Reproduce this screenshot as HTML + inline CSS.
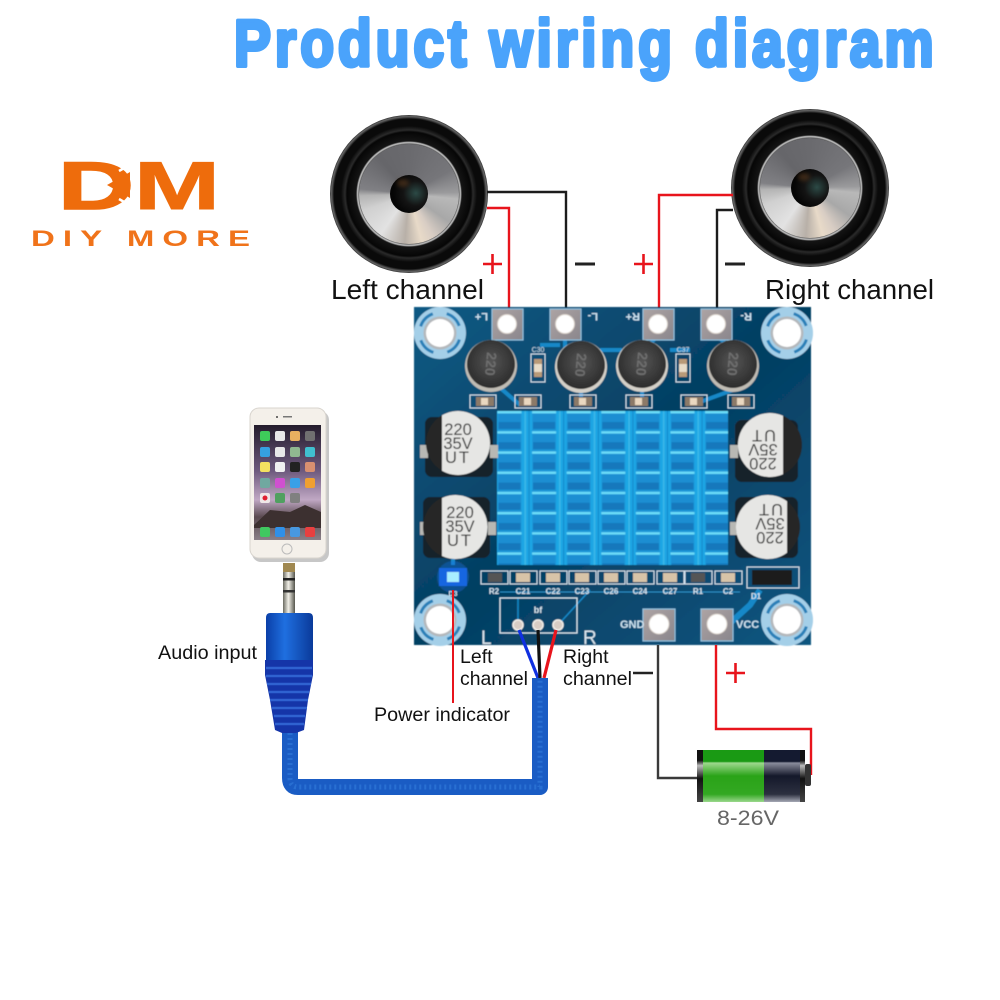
<!DOCTYPE html>
<html><head><meta charset="utf-8"><title>Product wiring diagram</title>
<style>
html,body{margin:0;padding:0;background:#fff;width:1000px;height:1000px;overflow:hidden}
#s{position:absolute;left:0;top:0}
.spk{position:absolute;width:158px;height:158px;border-radius:50%;
background:radial-gradient(circle,#111 0,#111 49.500px,#8a8a8a 50.500px,#c4c4c4 51.500px,#141414 53px,#060606 62px,#2a2a2a 64px,#0a0a0a 68px,#0a0a0a 75px,#666 77.500px,#333 79px)}
.cone{position:absolute;left:29px;top:29px;width:100px;height:100px;border-radius:50%;
background:conic-gradient(from 0deg,#6a6a6e 0deg,#76767a 60deg,#9a9a9c 88deg,#b8b8b8 96deg,#a8a8a8 125deg,#d8cdc4 150deg,#e8dac8 165deg,#b8b0a8 185deg,#e2e2e2 215deg,#d0d0d0 250deg,#b4b4b4 268deg,#808084 276deg,#66666a 320deg,#6a6a6e 360deg)}
.cap{position:absolute;left:31px;top:31px;width:38px;height:38px;border-radius:50%;
background:radial-gradient(circle at 68% 48%,#2c4a46 0,#141414 38%,#050505 70%),#000}
.cap:after{content:"";position:absolute;left:7px;top:4px;width:12px;height:8px;border-radius:50%;background:#5a3a1e;opacity:.6;filter:blur(2px)}
</style></head><body>
<div class="spk" style="left:330px;top:115px"><div class="cone"><div class="cap"></div></div></div>
<div class="spk" style="left:731px;top:109px"><div class="cone"><div class="cap"></div></div></div>
<svg id="s" width="1000" height="1000" viewBox="0 0 1000 1000" xmlns="http://www.w3.org/2000/svg" font-family="'Liberation Sans',sans-serif">
<defs>
<pattern id="fin" x="497.500" y="411" width="34.6" height="20.2" patternUnits="userSpaceOnUse">
<rect width="34.6" height="20.2" fill="#1ea6e4"/>
<rect x="0" width="24" height="20.2" fill="#1a96d8"/>
<rect x="1" y="3" width="22" height="8" fill="#1a8ed2"/>
<rect x="1" y="11" width="22" height="7" fill="#1378bc"/>
<rect x="0" y="0" width="24" height="2.400" fill="#6cdcf8"/>
<rect x="27" width="1.500" height="20.2" fill="#3cb8e8"/>
<rect x="31" width="1.200" height="20.2" fill="#158cce"/>
</pattern>
<linearGradient id="board" x1="0" y1="0" x2="1" y2="1"><stop offset="0" stop-color="#0b5a84"/><stop offset=".5" stop-color="#063f62"/><stop offset="1" stop-color="#0a5680"/></linearGradient>
<linearGradient id="bg" x1="0" y1="0" x2="0" y2="1"><stop offset="0" stop-color="#1a9a14"/><stop offset=".22" stop-color="#1a9a14"/><stop offset=".25" stop-color="#9ed88e"/><stop offset=".5" stop-color="#2aa318"/><stop offset=".85" stop-color="#33a822"/><stop offset="1" stop-color="#9ad88c"/></linearGradient>
<linearGradient id="bk" x1="0" y1="0" x2="0" y2="1"><stop offset="0" stop-color="#141a30"/><stop offset=".22" stop-color="#141a30"/><stop offset=".25" stop-color="#8a8d9c"/><stop offset=".5" stop-color="#14182a"/><stop offset=".85" stop-color="#2c3040"/><stop offset="1" stop-color="#a5a8b5"/></linearGradient>
<linearGradient id="ed" x1="0" y1="0" x2="0" y2="1"><stop offset="0" stop-color="#111"/><stop offset=".2" stop-color="#111"/><stop offset=".3" stop-color="#bbb"/><stop offset=".55" stop-color="#111"/><stop offset="1" stop-color="#444"/></linearGradient>
<linearGradient id="wall" x1="0" y1="0" x2="0" y2="1"><stop offset="0" stop-color="#241c2c"/><stop offset=".4" stop-color="#6e5a7e"/><stop offset=".65" stop-color="#c0a8c4"/><stop offset=".8" stop-color="#5a4a50"/><stop offset="1" stop-color="#8a8088"/></linearGradient>
<linearGradient id="blu" x1="0" y1="0" x2="1" y2="0"><stop offset="0" stop-color="#0a3fa8"/><stop offset=".4" stop-color="#1f6fe0"/><stop offset="1" stop-color="#0a3a9a"/></linearGradient>
<linearGradient id="jack" x1="0" y1="0" x2="1" y2="0"><stop offset="0" stop-color="#6a6a60"/><stop offset=".45" stop-color="#f2f0e8"/><stop offset="1" stop-color="#55554c"/></linearGradient>
<linearGradient id="pad" x1="0" y1="0" x2="1" y2="1"><stop offset="0" stop-color="#ada4a4"/><stop offset="1" stop-color="#8a868c"/></linearGradient>
<radialGradient id="ind" cx=".5" cy=".45" r=".55"><stop offset="0" stop-color="#555"/><stop offset="1" stop-color="#2c2c2c"/></radialGradient>
<filter id="soft"><feGaussianBlur stdDeviation="0.5"/></filter>
</defs>

<!-- title -->
<text transform="translate(234,66) scale(.84,1)" font-size="66" font-weight="700" fill="#4aa3fb" stroke="#4aa3fb" stroke-width="4" stroke-linejoin="round" textLength="833" lengthAdjust="spacing">Product wiring diagram</text>

<!-- logo -->
<text x="58" y="209" font-size="68" font-weight="700" fill="#ee6c0c" stroke="#ee6c0c" stroke-width="1.500" textLength="76" lengthAdjust="spacingAndGlyphs">D</text>
<polygon points="107,185 130,172 130,198" fill="#ee6c0c"/>
<path d="M119 171L131 164M119 199L131 206" stroke="#fff" stroke-width="2.500" fill="none"/>
<text x="134" y="209" font-size="68" font-weight="700" fill="#ee6c0c" stroke="#ee6c0c" stroke-width="1" textLength="86" lengthAdjust="spacingAndGlyphs">M</text>
<text transform="translate(31,246) scale(1.5,1)" font-size="22" font-weight="700" fill="#f0731a" textLength="146" lengthAdjust="spacing">DIY MORE</text>

<!-- speaker wires -->
<g fill="none" stroke-width="2.4">
<polyline points="487,192 566,192 566,310" stroke="#1c1c1c"/>
<polyline points="487,208 509,208 509,310" stroke="#e8141c"/>
<polyline points="733,195 659,195 659,312" stroke="#e8141c"/>
<polyline points="733,210 717,210 717,312" stroke="#1c1c1c"/>
</g>
<g fill="none">
<path d="M483 264H502M492.500 254V274M634 264H653M643.500 254V274" stroke="#e8141c" stroke-width="2.600"/>
<path d="M575 264H595M725 264H745" stroke="#222" stroke-width="3"/>
</g>
<text x="331" y="299" font-size="28" fill="#111" textLength="153" lengthAdjust="spacingAndGlyphs">Left channel</text>
<text x="765" y="299" font-size="28" fill="#111" textLength="169" lengthAdjust="spacingAndGlyphs">Right channel</text>

<!-- board -->
<g filter="url(#soft)">
<rect x="414" y="307" width="397" height="338" fill="url(#board)"/>
<!-- traces -->
<g fill="none" stroke="#1688c8" stroke-width="4">
<path d="M507 324L490 345M565 335V350M658 335L645 350M716 335L733 350M491 380L520 405M581 390V402M642 390V402M733 390L700 402"/>
<path d="M453 565V555M540 345H560M600 350H622M670 350H690"/>
<path d="M717 635L750 605L760 590" stroke-width="6"/>
<path d="M518 625V598M558 625L590 590" stroke-width="1.500"/>
<path d="M500 592H740" stroke-width="1" stroke="#2a90c8"/>
</g>
<!-- mounting holes -->
<g>
<g><circle cx="440" cy="333" r="26" fill="#a4cfe8"/><circle cx="440" cy="333" r="20.500" fill="none" stroke="#2a80b8" stroke-width="3" stroke-dasharray="18 14.200" stroke-dashoffset="-6.700"/><circle cx="440" cy="333" r="16.500" fill="#b4b8bc"/><circle cx="440" cy="333" r="14" fill="#fff"/></g>
<g><circle cx="787" cy="333" r="26" fill="#a4cfe8"/><circle cx="787" cy="333" r="20.500" fill="none" stroke="#2a80b8" stroke-width="3" stroke-dasharray="18 14.200" stroke-dashoffset="-6.700"/><circle cx="787" cy="333" r="16.500" fill="#b4b8bc"/><circle cx="787" cy="333" r="14" fill="#fff"/></g>
<g><circle cx="440" cy="620" r="26" fill="#a4cfe8"/><circle cx="440" cy="620" r="20.500" fill="none" stroke="#2a80b8" stroke-width="3" stroke-dasharray="18 14.200" stroke-dashoffset="-6.700"/><circle cx="440" cy="620" r="16.500" fill="#b4b8bc"/><circle cx="440" cy="620" r="14" fill="#fff"/></g>
<g><circle cx="787" cy="620" r="26" fill="#a4cfe8"/><circle cx="787" cy="620" r="20.500" fill="none" stroke="#2a80b8" stroke-width="3" stroke-dasharray="18 14.200" stroke-dashoffset="-6.700"/><circle cx="787" cy="620" r="16.500" fill="#b4b8bc"/><circle cx="787" cy="620" r="14" fill="#fff"/></g>
</g>
<!-- pads -->
<g fill="url(#pad)" stroke="#8fc4e4" stroke-width="1">
<rect x="492" y="309" width="31" height="31"/><rect x="550" y="309" width="31" height="31"/><rect x="643" y="309" width="31" height="31"/><rect x="701" y="309" width="31" height="31"/>
<rect x="643" y="609" width="32" height="32"/><rect x="701" y="609" width="32" height="32"/>
</g>
<g fill="#fff" stroke="#d8d0c8" stroke-width="1">
<circle cx="507" cy="324" r="9.500"/><circle cx="565" cy="324" r="9.500"/><circle cx="658" cy="324" r="9.500"/><circle cx="716" cy="324" r="9.500"/>
<circle cx="659" cy="624" r="10"/><circle cx="717" cy="624" r="10"/>
</g>
<g fill="#cfe4f2" font-size="11" font-weight="700">
<text transform="translate(488,313) rotate(180)">L+</text>
<text transform="translate(598,313) rotate(180)">L-</text>
<text transform="translate(640,313) rotate(180)">R+</text>
<text transform="translate(752,313) rotate(180)">R-</text>
<text x="620" y="628">GND</text><text x="736" y="628">VCC</text>
</g>
<!-- inductors -->
<g>
<circle cx="491" cy="366" r="26" fill="#c0bcb4"/><circle cx="491" cy="364" r="24" fill="url(#ind)"/>
<circle cx="581" cy="367" r="26" fill="#d4d0c8"/><circle cx="581" cy="365" r="24" fill="url(#ind)"/>
<circle cx="642" cy="366" r="26" fill="#d4d0c8"/><circle cx="642" cy="364" r="24" fill="url(#ind)"/>
<circle cx="733" cy="366" r="26" fill="#c0bcb4"/><circle cx="733" cy="364" r="24" fill="url(#ind)"/>
</g>
<g fill="#6e6e6e" font-size="14" font-weight="700" text-anchor="middle">
<text transform="translate(491,364) rotate(95)" y="5">220</text>
<text transform="translate(581,365) rotate(95)" y="5">220</text>
<text transform="translate(642,364) rotate(95)" y="5">220</text>
<text transform="translate(733,364) rotate(95)" y="5">220</text>
</g>
<!-- C30 C37 -->
<g stroke="#cfe0ec" stroke-width="1" fill="none"><rect x="531" y="354" width="14" height="28"/><rect x="676" y="354" width="14" height="28"/></g>
<rect x="534" y="359" width="8" height="18" fill="#b89a78"/><rect x="679" y="359" width="8" height="18" fill="#b89a78"/>
<rect x="534" y="364" width="8" height="8" fill="#e8dcc8"/><rect x="679" y="364" width="8" height="8" fill="#e8dcc8"/>
<text x="538" y="352" font-size="7" fill="#cfe0ec" text-anchor="middle">C30</text><text x="683" y="352" font-size="7" fill="#cfe0ec" text-anchor="middle">C37</text>
<!-- top small parts -->
<g fill="none" stroke="#cfe0ec" stroke-width="1">
<rect x="470" y="395" width="26" height="13"/><rect x="515" y="395" width="26" height="13"/><rect x="570" y="395" width="26" height="13"/><rect x="626" y="395" width="26" height="13"/><rect x="681" y="395" width="26" height="13"/><rect x="728" y="395" width="26" height="13"/>
</g>
<g fill="#8c7a68"><rect x="476" y="397" width="18" height="9"/><rect x="519" y="397" width="18" height="9"/><rect x="574" y="397" width="18" height="9"/><rect x="630" y="397" width="18" height="9"/><rect x="685" y="397" width="18" height="9"/><rect x="732" y="397" width="18" height="9"/></g>
<g fill="#ead8c0"><rect x="481" y="398" width="7" height="7"/><rect x="524" y="398" width="7" height="7"/><rect x="579" y="398" width="7" height="7"/><rect x="635" y="398" width="7" height="7"/><rect x="690" y="398" width="7" height="7"/><rect x="737" y="398" width="7" height="7"/></g>
<!-- heatsink -->
<rect x="497" y="411" width="231" height="154" fill="url(#fin)"/>
<!-- capacitors -->
<g fill="#14212c"><rect x="425" y="417" width="68" height="60" rx="7"/><rect x="423" y="497" width="67" height="61" rx="7"/><rect x="735" y="420" width="63" height="62" rx="7"/><rect x="735" y="497" width="63" height="61" rx="7"/></g>
<g fill="#b8b8b4"><rect x="420" y="445" width="8" height="13"/><rect x="490" y="445" width="8" height="13"/><rect x="420" y="522" width="8" height="13"/><rect x="488" y="522" width="8" height="13"/><rect x="730" y="445" width="8" height="13"/><rect x="730" y="522" width="8" height="13"/></g>
<g fill="#262626"><circle cx="458" cy="443" r="32"/><circle cx="455" cy="527" r="32"/><circle cx="770" cy="445" r="32"/><circle cx="768" cy="527" r="32"/></g>
<g fill="#e6e6e4">
<path d="M442 415.300A32 32 0 1 1 442 470.700Z"/>
<path d="M442 498A32 32 0 1 1 442 556Z"/>
<path d="M783 415.800A32 32 0 1 0 783 474.200Z"/>
<path d="M787 501.300A32 32 0 1 0 787 552.700Z"/>
</g>
<g fill="#333" font-size="16.500" text-anchor="middle">
<text x="458" y="435">220</text><text x="458" y="449">35V</text><text x="458" y="463" letter-spacing="2">UT</text>
<text x="460" y="518">220</text><text x="460" y="532">35V</text><text x="460" y="546" letter-spacing="2">UT</text>
<g transform="rotate(180 763 449)"><text x="763" y="440">220</text><text x="763" y="454">35V</text><text x="763" y="468" letter-spacing="2">UT</text></g>
<g transform="rotate(180 770 523)"><text x="770" y="514">220</text><text x="770" y="528">35V</text><text x="770" y="542" letter-spacing="2">UT</text></g>
</g>
<!-- LED -->
<circle cx="453" cy="577" r="16" fill="#1f6fe8" opacity=".35"/>
<rect x="439" y="568" width="28" height="18" fill="#1466e0"/>
<rect x="447" y="572" width="12" height="10" fill="#a8eeff"/>
<!-- bottom row -->
<g fill="none" stroke="#cfe0ec" stroke-width="1">
<rect x="481" y="571" width="27" height="13"/><rect x="510" y="571" width="27" height="13"/><rect x="540" y="571" width="27" height="13"/><rect x="569" y="571" width="27" height="13"/><rect x="598" y="571" width="27" height="13"/><rect x="627" y="571" width="27" height="13"/><rect x="657" y="571" width="27" height="13"/><rect x="685" y="571" width="27" height="13"/><rect x="715" y="571" width="27" height="13"/>
</g>
<g fill="#d8c4a8"><rect x="516" y="573" width="14" height="9"/><rect x="546" y="573" width="14" height="9"/><rect x="575" y="573" width="14" height="9"/><rect x="604" y="573" width="14" height="9"/><rect x="633" y="573" width="14" height="9"/><rect x="663" y="573" width="14" height="9"/><rect x="721" y="573" width="14" height="9"/></g>
<g fill="#555"><rect x="488" y="573" width="14" height="9"/><rect x="691" y="573" width="14" height="9"/></g>
<g fill="#d4e4f0" font-size="8" text-anchor="middle" font-weight="700">
<text x="494" y="594">R2</text><text x="523" y="594">C21</text><text x="553" y="594">C22</text><text x="582" y="594">C23</text><text x="611" y="594">C26</text><text x="640" y="594">C24</text><text x="670" y="594">C27</text><text x="698" y="594">R1</text><text x="728" y="594">C2</text><text x="756" y="599">D1</text><text x="453" y="596" font-size="7">D3</text>
</g>
<rect x="747" y="567" width="52" height="21" fill="none" stroke="#cfe0ec"/>
<rect x="752" y="570" width="40" height="15" fill="#1c1c1e"/>
<!-- connector -->
<rect x="500" y="598" width="77" height="35" fill="none" stroke="#dce8f0" stroke-width="1.200"/>
<text x="538" y="613" font-size="9" fill="#dce8f0" text-anchor="middle" font-weight="700">bf</text>
<text x="481" y="644" font-size="19" fill="#dce8f0">L</text>
<text x="583" y="644" font-size="19" fill="#dce8f0">R</text>
<g fill="#d8ccc4" stroke="#f4f0ea" stroke-width="1.500"><circle cx="518" cy="625" r="5"/><circle cx="538" cy="625" r="5"/><circle cx="558" cy="625" r="5"/></g>
</g>

<!-- audio leads -->
<g fill="none" stroke-width="3.200">
<path d="M519 630L538 678" stroke="#1030e0"/>
<path d="M538 630L540 678" stroke="#111"/>
<path d="M556 630L544 678" stroke="#e8141c"/>
</g>
<!-- red indicator line -->
<path d="M453 590V703" stroke="#e8141c" stroke-width="2" fill="none"/>

<!-- cable -->
<path d="M290 728V778Q290 787 298 787H540V678" fill="none" stroke="#1a5cc4" stroke-width="16" stroke-linejoin="round"/>
<path d="M290 728V778Q290 787 298 787H540V678" fill="none" stroke="#2f78d8" stroke-width="5" stroke-dasharray="2 3" opacity=".7"/>

<!-- jack -->
<rect x="283" y="563" width="12" height="52" fill="url(#jack)"/>
<rect x="283" y="563" width="12" height="9" fill="#a08850"/>
<rect x="283" y="578" width="12" height="2.500" fill="#222"/>
<rect x="283" y="590" width="12" height="2.500" fill="#333"/>
<path d="M270 613H309Q313 613 313 618V660H266V618Q266 613 270 613Z" fill="url(#blu)"/>
<path d="M265 660H313V675L308 700L304 730L296 733H282L275 730L270 700L265 675Z" fill="#1535a8"/>
<g stroke="#2f62d0" stroke-width="2.500"><path d="M266 668H312M266 676H312M267 684H311M269 692H309M270 700H308M272 708H307M274 716H305M275 724H304"/></g>

<!-- phone -->
<rect x="252" y="411" width="77" height="151" rx="9" fill="#999" opacity=".55"/>
<rect x="250" y="408" width="76" height="150" rx="9" fill="#f4f0ea" stroke="#d8d4ce"/>
<rect x="254" y="425" width="67" height="115" fill="url(#wall)"/>
<path d="M254 525L270 510L290 512L305 505L321 512V528H254Z" fill="#3c3030"/>
<circle cx="287" cy="549" r="5" fill="none" stroke="#bbb" stroke-width="1"/>
<rect x="283" y="416" width="9" height="1.500" fill="#777"/><circle cx="277" cy="417" r="1" fill="#444"/>
<g>
<rect x="260" y="431" width="10" height="10" rx="2" fill="#3ecb5a"/><rect x="275" y="431" width="10" height="10" rx="2" fill="#e8e8e8"/><rect x="290" y="431" width="10" height="10" rx="2" fill="#e8b060"/><rect x="305" y="431" width="10" height="10" rx="2" fill="#707070"/>
<rect x="260" y="447" width="10" height="10" rx="2" fill="#35a0e0"/><rect x="275" y="447" width="10" height="10" rx="2" fill="#e8e8e8"/><rect x="290" y="447" width="10" height="10" rx="2" fill="#90b890"/><rect x="305" y="447" width="10" height="10" rx="2" fill="#40c0d0"/>
<rect x="260" y="462" width="10" height="10" rx="2" fill="#f4e060"/><rect x="275" y="462" width="10" height="10" rx="2" fill="#f0f0f0"/><rect x="290" y="462" width="10" height="10" rx="2" fill="#222"/><rect x="305" y="462" width="10" height="10" rx="2" fill="#d89070"/>
<rect x="260" y="478" width="10" height="10" rx="2" fill="#70a8a0"/><rect x="275" y="478" width="10" height="10" rx="2" fill="#d050d0"/><rect x="290" y="478" width="10" height="10" rx="2" fill="#38a0e8"/><rect x="305" y="478" width="10" height="10" rx="2" fill="#f0a030"/>
<rect x="260" y="493" width="10" height="10" rx="2" fill="#f0e8e8"/><rect x="275" y="493" width="10" height="10" rx="2" fill="#50a060"/><rect x="290" y="493" width="10" height="10" rx="2" fill="#808080"/>
<circle cx="265" cy="498" r="2.500" fill="#e02030"/>
<rect x="260" y="527" width="10" height="10" rx="2" fill="#40c860"/><rect x="275" y="527" width="10" height="10" rx="2" fill="#3090e8"/><rect x="290" y="527" width="10" height="10" rx="2" fill="#4898e0"/><rect x="305" y="527" width="10" height="10" rx="2" fill="#e84040"/>
</g>

<!-- power wires + battery -->
<g fill="none" stroke-width="2.400">
<polyline points="658,645 658,778 698,778" stroke="#3a3a3a"/>
<polyline points="716,645 716,729 811,729 811,775" stroke="#e8141c"/>
</g>
<path d="M726 673H745M735.500 663V683" stroke="#e8141c" stroke-width="2.600"/>
<path d="M633 673H653" stroke="#222" stroke-width="2.600"/>
<rect x="697" y="750" width="6" height="52" fill="url(#ed)"/>
<rect x="703" y="750" width="61" height="52" fill="url(#bg)"/>
<rect x="764" y="750" width="36" height="52" fill="url(#bk)"/>
<rect x="800" y="750" width="5" height="52" fill="url(#ed)"/>
<rect x="805" y="764" width="6" height="22" rx="2" fill="#333"/>
<text x="717" y="825" font-size="21" fill="#666" textLength="62" lengthAdjust="spacingAndGlyphs">8-26V</text>

<!-- labels -->
<g fill="#111" font-size="19.500">
<text x="158" y="659" textLength="99" lengthAdjust="spacingAndGlyphs">Audio input</text>
<text x="374" y="721" textLength="136" lengthAdjust="spacingAndGlyphs">Power indicator</text>
<text x="460" y="663">Left</text>
<text x="460" y="685" textLength="68" lengthAdjust="spacingAndGlyphs">channel</text>
<text x="563" y="663">Right</text>
<text x="563" y="685" textLength="69" lengthAdjust="spacingAndGlyphs">channel</text>
</g>
</svg>
</body></html>
